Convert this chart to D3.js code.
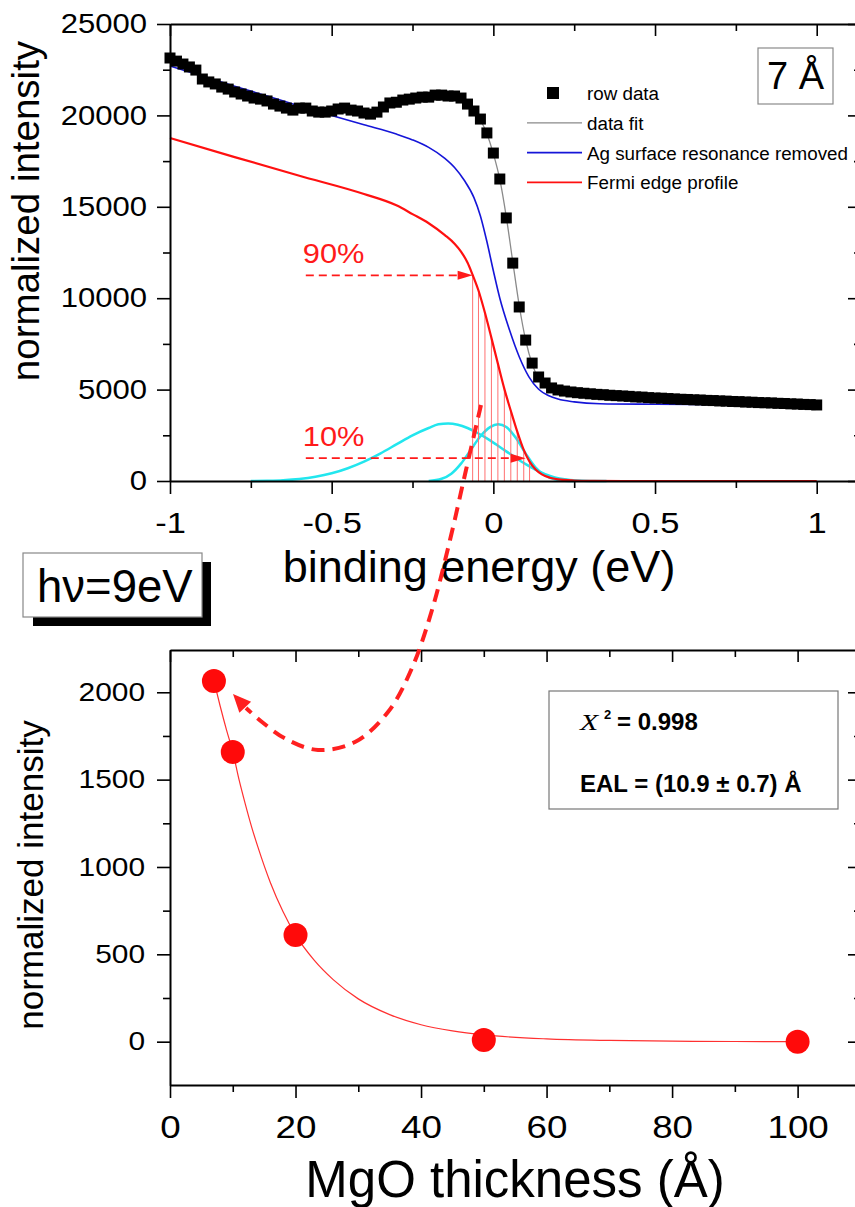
<!DOCTYPE html>
<html>
<head>
<meta charset="utf-8">
<script src="https://cdn.jsdelivr.net/npm/d3@7"></script>
<style>
  body { margin: 0; background: #fff; }
  svg text { font-family: "Liberation Sans", Arial, Helvetica, sans-serif; }
</style>
</head>
<body>
<svg width="855" height="1207"></svg>
<script>
const svg = d3.select("svg");

// ---------- upper panel: spectrum around the Fermi edge (7 Å MgO) ----------
const rowEnergy = [
  -1.00, -0.98, -0.96, -0.94, -0.92, -0.90, -0.88, -0.86, -0.84, -0.82,
  -0.80, -0.78, -0.76, -0.74, -0.72, -0.70, -0.68, -0.66, -0.64, -0.62,
  -0.60, -0.58, -0.56, -0.54, -0.52, -0.50, -0.48, -0.46, -0.44, -0.42,
  -0.40, -0.38, -0.36, -0.34, -0.32, -0.30, -0.28, -0.26, -0.24, -0.22,
  -0.20, -0.18, -0.16, -0.14, -0.12, -0.10, -0.08, -0.06, -0.04, -0.02,
   0.00,  0.02,  0.04,  0.06,  0.08,  0.10,  0.12,  0.14,  0.16,  0.18,
   0.20,  0.22,  0.24,  0.26,  0.28,  0.30,  0.32,  0.34,  0.36,  0.38,
   0.40,  0.42,  0.44,  0.46,  0.48,  0.50,  0.52,  0.54,  0.56,  0.58,
   0.60,  0.62,  0.64,  0.66,  0.68,  0.70,  0.72,  0.74,  0.76,  0.78,
   0.80,  0.82,  0.84,  0.86,  0.88,  0.90,  0.92,  0.94,  0.96,  0.98,
   1.00
];
const rowIntensity = [
  23140, 22970, 22810, 22650, 22480, 21990, 21830, 21720, 21550, 21440,
  21280, 21170, 21060, 20950, 20890, 20790, 20620, 20510, 20400, 20290,
  20400, 20400, 20240, 20180, 20180, 20240, 20350, 20400, 20290, 20240,
  20130, 20070, 20180, 20460, 20680, 20720, 20840, 20890, 20950, 21000,
  21000, 21110, 21110, 21060, 21060, 20950, 20620, 20240, 19800, 19040,
  17940, 16520, 14390, 11920,  9520,  7710,  6450,  5690,  5360,  5090,
   4980,  4920,  4870,  4830,  4800,  4770,  4740,  4720,  4690,  4670,
   4650,  4630,  4600,  4590,  4560,  4540,  4530,  4510,  4490,  4470,
   4460,  4440,  4430,  4410,  4400,  4380,  4370,  4350,  4340,  4320,
   4310,  4290,  4280,  4270,  4250,  4240,  4220,  4210,  4190,  4180,
   4160
];

const fitEnergy = [-1.00, -0.90, -0.80, -0.70, -0.60, -0.50, -0.40, -0.30, -0.20, -0.12,
  -0.08, -0.06, -0.04, -0.02, 0.00, 0.02, 0.04, 0.06, 0.08, 0.10, 0.12, 0.14, 0.16,
  0.20, 0.30, 0.50, 0.75, 1.00];
const fitIntensity = [22950, 22100, 21350, 20800, 20450, 20300, 20250, 20600, 21000, 21050,
  20650, 20250, 19750, 19000, 17900, 16500, 14450, 12000, 9600, 7700, 6400, 5600, 5200,
  4900, 4750, 4540, 4330, 4150];

const agEnergy = [-1.00, -0.90, -0.80, -0.70, -0.60, -0.50, -0.40, -0.30, -0.25, -0.20,
  -0.15, -0.12, -0.09, -0.06, -0.04, -0.02, 0.00, 0.02, 0.05, 0.08, 0.11, 0.14, 0.17,
  0.20, 0.25, 0.33, 0.50, 0.75, 1.00];
const agIntensity = [22700, 22150, 21600, 21060, 20520, 20000, 19490, 18980, 18660, 18250,
  17650, 17150, 16450, 15500, 14500, 13100, 11500, 10000, 8260, 6800, 5700, 5020, 4680,
  4480, 4330, 4230, 4200, 4170, 4130];

const fermiEnergy = [-1.00, -0.80, -0.60, -0.40, -0.30, -0.25, -0.20, -0.15, -0.12, -0.10, -0.08,
  -0.064, -0.046, -0.026, -0.006, 0.014, 0.034, 0.054, 0.074, 0.094, 0.112,
  0.130, 0.150, 0.175, 0.200, 0.250, 0.300, 0.400, 1.000];
const fermiIntensity = [18760, 17720, 16700, 15700, 15080, 14600, 14100, 13450, 12980, 12550, 11950,
  11270, 10420, 9200, 7830, 6420, 5040, 3840, 2700, 1700, 1060,
  640, 360, 180, 90, 25, 5, 0, 0];

const broadEnergy = [-0.75, -0.70, -0.65, -0.60, -0.55, -0.50, -0.45, -0.40, -0.35, -0.30,
  -0.25, -0.20, -0.17, -0.14, -0.11, -0.08, -0.05, -0.02, 0.01, 0.04, 0.07, 0.10, 0.13,
  0.16, 0.19, 0.22, 0.26, 0.30, 0.35];
const broadIntensity = [0, 15, 45, 110, 230, 420, 700, 1060, 1500, 2000,
  2500, 2900, 3100, 3150, 3080, 2900, 2640, 2330, 1980, 1620, 1260, 920, 620,
  380, 200, 90, 25, 5, 0];

const narrowEnergy = [-0.20, -0.16, -0.13, -0.10, -0.07, -0.04, -0.01, 0.015, 0.04,
  0.07, 0.10, 0.13, 0.16, 0.19, 0.22, 0.25];
const narrowIntensity = [0, 120, 400, 950, 1700, 2450, 2950, 3100, 2950,
  2350, 1500, 750, 300, 90, 20, 0];

// energies of the shading lines between the 90 % and 10 % points of the edge
const hatchEnergy = [-0.064, -0.046, -0.026, -0.006, 0.014, 0.034, 0.054, 0.074, 0.094, 0.112];
const edgeStep = 12500;
const markStartEnergy = -0.58;
const mark90End = -0.064;
const mark10End = 0.10;

const legendLabels = ["row data", "data fit", "Ag surface resonance removed", "Fermi edge profile"];
const legendColors = ["#000", "#8a8a8a", "#1515d8", "#ff1010"];

const energyTicks = [-1, -0.5, 0, 0.5, 1];
const energyMinor = [-0.75, -0.25, 0.25, 0.75];
const countTicks = [0, 5000, 10000, 15000, 20000, 25000];
const countMinor = [2500, 7500, 12500, 17500, 22500];

// ---------- lower panel: edge intensity versus MgO thickness ----------
const thickness = [7, 10, 20, 50, 100];
const edgeIntensity = [2065, 1658, 611, 10, 0];
const fitThickness = [7, 8, 9, 10, 11, 12, 13, 14, 16, 18, 20, 23, 26, 30, 35, 40, 45, 50, 60, 70, 80, 90, 100];
const fitEdge = [2065, 1920, 1785, 1660, 1500, 1360, 1230, 1115, 910, 745, 611, 465, 355, 245, 155, 97, 62, 39, 16, 7, 3, 1, 0];

const thickTicks = [0, 20, 40, 60, 80, 100];
const thickMinor = [10, 30, 50, 70, 90];
const edgeTicks = [0, 500, 1000, 1500, 2000];
const edgeMinor = [-250, 250, 750, 1250, 1750];

// ---------- scales ----------
const xE = d3.scaleLinear().domain([-1, 1.137]).range([170, 861]);
const yI = d3.scaleLinear().domain([0, 25000]).range([481, 24]);
const xT = d3.scaleLinear().domain([0, 110.1]).range([170, 861]);
const yT = d3.scaleLinear().domain([-248, 2242]).range([1085, 650]);

const stretch = 1.15;

const curve = (xs, ys, sx, sy) => d3.line()
  .x((d, i) => sx(xs[i]))
  .y((d, i) => sy(ys[i]))
  .curve(d3.curveMonotoneX)(xs);

// Draws a boxed frame: outward ticks with labels on left/bottom, inward mirror ticks on top/right
function drawFrame(g, x, y, s) {
  const [x0, x1] = x.range();
  const [y0, y1] = y.range();
  const inX = v => v >= x.domain()[0] && v <= x.domain()[1];
  const inY = v => v >= y.domain()[0] && v <= y.domain()[1];

  const bottom = g.append("g").attr("transform", `translate(0,${y0})`)
    .call(d3.axisBottom(x).tickValues(s.xMajor).tickSize(13).tickSizeOuter(0)
      .tickPadding(s.xPad).tickFormat(d => String(d)));
  bottom.append("g").call(d3.axisBottom(x).tickValues(s.xMinor.filter(inX)).tickSize(7).tickFormat(""))
    .call(a => a.select(".domain").remove());
  bottom.attr("font-size", s.xFont).attr("font-family", null);
  bottom.selectAll(".tick text").attr("fill", "#000").attr("transform", `scale(${stretch},1)`);

  const left = g.append("g").attr("transform", `translate(${x0},0)`)
    .call(d3.axisLeft(y).tickValues(s.yMajor).tickSize(13).tickSizeOuter(0)
      .tickPadding(s.yPad).tickFormat(d => String(d)));
  left.append("g").call(d3.axisLeft(y).tickValues(s.yMinor.filter(inY)).tickSize(7).tickFormat(""))
    .call(a => a.select(".domain").remove());
  left.attr("font-size", s.yFont).attr("font-family", null);
  left.selectAll(".tick text").attr("fill", "#000")
    .attr("x", -(13 + s.yPad) / stretch)
    .attr("transform", `scale(${stretch},1)`);

  const topAx = g.append("g").attr("transform", `translate(0,${y1})`)
    .call(d3.axisTop(x).tickValues(s.xMajor).tickSize(-12).tickSizeOuter(0).tickFormat(""));
  topAx.append("g").call(d3.axisTop(x).tickValues(s.xMinor.filter(inX)).tickSize(-7).tickFormat(""))
    .call(a => a.select(".domain").remove());

  const rightAx = g.append("g").attr("transform", `translate(${x1},0)`)
    .call(d3.axisRight(y).tickValues(s.yMajor).tickSize(-13).tickSizeOuter(0).tickFormat(""));
  rightAx.append("g").call(d3.axisRight(y).tickValues(s.yMinor.filter(inY)).tickSize(-7).tickFormat(""))
    .call(a => a.select(".domain").remove());

  g.selectAll(".domain").attr("stroke", "#000").attr("stroke-width", 2);
  g.selectAll(".tick line").attr("stroke", "#000").attr("stroke-width", 1.6);
}

function arrowHead(g, tip, from, len, half, color) {
  const dx = tip[0] - from[0], dy = tip[1] - from[1];
  const n = Math.hypot(dx, dy);
  const ux = dx / n, uy = dy / n;
  const bx = tip[0] - ux * len, by = tip[1] - uy * len;
  g.append("path")
    .attr("d", `M${tip[0]},${tip[1]}L${bx - uy * half},${by + ux * half}L${bx + uy * half},${by - ux * half}Z`)
    .attr("fill", color);
}

// ================= upper panel =================
const spec = svg.append("g");

spec.append("path").attr("d", curve(broadEnergy, broadIntensity, xE, yI))
  .attr("fill", "none").attr("stroke", "#22e6ee").attr("stroke-width", 2.5);
spec.append("path").attr("d", curve(narrowEnergy, narrowIntensity, xE, yI))
  .attr("fill", "none").attr("stroke", "#22e6ee").attr("stroke-width", 2.5);

// shading under the edge between the 90 % and 10 % points
spec.selectAll("line.hatch").data(hatchEnergy).enter().append("line")
  .attr("class", "hatch")
  .attr("x1", d => xE(d)).attr("x2", d => xE(d))
  .attr("y1", yI(0))
  .attr("y2", d => yI(fermiIntensity[fermiEnergy.indexOf(d)]))
  .attr("stroke", "#ff7070").attr("stroke-width", 1);

spec.append("path").attr("d", curve(fermiEnergy, fermiIntensity, xE, yI))
  .attr("fill", "none").attr("stroke", "#ff1010").attr("stroke-width", 2.2);
spec.append("path").attr("d", curve(agEnergy, agIntensity, xE, yI))
  .attr("fill", "none").attr("stroke", "#1515d8").attr("stroke-width", 1.6);
spec.append("path").attr("d", curve(fitEnergy, fitIntensity, xE, yI))
  .attr("fill", "none").attr("stroke", "#8a8a8a").attr("stroke-width", 1.3);

spec.selectAll("rect.row").data(rowEnergy).enter().append("rect")
  .attr("class", "row")
  .attr("x", d => xE(d) - 5.5)
  .attr("y", (d, i) => yI(rowIntensity[i]) - 5.5)
  .attr("width", 11).attr("height", 11)
  .attr("fill", "#000");

// 90 % / 10 % markers
const marks = [
  { label: "90%", level: 0.9 * edgeStep, end: mark90End, labelDy: -12 },
  { label: "10%", level: 0.1 * edgeStep, end: mark10End, labelDy: -12 }
];
marks.forEach(m => {
  const y = yI(m.level);
  const x0 = xE(markStartEnergy), x1 = xE(m.end);
  spec.append("line").attr("x1", x0).attr("x2", x1 - 12).attr("y1", y).attr("y2", y)
    .attr("stroke", "#ff1a1a").attr("stroke-width", 1.6).attr("stroke-dasharray", "8,5");
  arrowHead(spec, [x1, y], [x0, y], 15, 4.5, "#ff1a1a");
  spec.append("text")
    .attr("transform", `translate(${x0 - 3},${y + m.labelDy}) scale(1.1,1)`)
    .attr("font-size", 28).attr("fill", "#ff1a1a").text(m.label);
});

drawFrame(spec, xE, yI, {
  xMajor: energyTicks, xMinor: energyMinor, xPad: 18, xFont: 30,
  yMajor: countTicks, yMinor: countMinor, yPad: 10, yFont: 27
});

spec.append("text").attr("x", 479).attr("y", 582).attr("text-anchor", "middle")
  .attr("font-size", 45).text("binding energy (eV)");
spec.append("text").attr("transform", "translate(39,211) rotate(-90)")
  .attr("text-anchor", "middle").attr("font-size", 38.5).text("normalized intensity");

// legend
const legend = spec.append("g");
legendLabels.forEach((label, i) => {
  const cy = 93 + i * 29.8;
  if (i === 0) {
    legend.append("rect").attr("x", 547).attr("y", cy - 6).attr("width", 12).attr("height", 12)
      .attr("fill", legendColors[i]);
  } else {
    legend.append("line").attr("x1", 527).attr("x2", 582).attr("y1", cy).attr("y2", cy)
      .attr("stroke", legendColors[i]).attr("stroke-width", i === 1 ? 1.3 : 1.8);
  }
  legend.append("text").attr("x", 587).attr("y", cy + 7).attr("font-size", 18.8).text(label);
});

// thickness tag
spec.append("rect").attr("x", 758).attr("y", 48).attr("width", 75).attr("height", 56)
  .attr("fill", "#fff").attr("stroke", "#8a8a8a").attr("stroke-width", 1.2);
spec.append("text").attr("x", 795.5).attr("y", 89).attr("text-anchor", "middle")
  .attr("font-size", 38).text("7 Å");

// ================= lower panel =================
const att = svg.append("g");

att.append("path").attr("d", curve(fitThickness, fitEdge, xT, yT))
  .attr("fill", "none").attr("stroke", "#ff3030").attr("stroke-width", 1.2);

att.selectAll("circle").data(thickness).enter().append("circle")
  .attr("cx", d => xT(d))
  .attr("cy", (d, i) => yT(edgeIntensity[i]))
  .attr("r", 12)
  .attr("fill", "#ff0a0a");

drawFrame(att, xT, yT, {
  xMajor: thickTicks, xMinor: thickMinor, xPad: 17, xFont: 32,
  yMajor: edgeTicks, yMinor: edgeMinor, yPad: 12, yFont: 26
});

att.append("text").attr("x", 515).attr("y", 1197).attr("text-anchor", "middle")
  .attr("font-size", 51).text("MgO thickness (Å)");
att.append("text").attr("transform", "translate(43,875) rotate(-90)")
  .attr("text-anchor", "middle").attr("font-size", 35).text("normalized intensity");

// fit result box
att.append("rect").attr("x", 549).attr("y", 691).attr("width", 289).attr("height", 118)
  .attr("fill", "#fff").attr("stroke", "#777").attr("stroke-width", 1.2);
att.append("text").attr("transform", "translate(580,730) scale(1.3,1)")
  .style("font-family", '"Liberation Serif", "Times New Roman", serif')
  .attr("font-style", "italic").attr("font-size", 23).text("X");
att.append("text").attr("x", 604).attr("y", 719).attr("font-size", 13).attr("font-weight", "bold").text("2");
att.append("text").attr("x", 617).attr("y", 730).attr("font-size", 24).attr("font-weight", "bold").text("= 0.998");
att.append("text").attr("x", 580).attr("y", 792).attr("font-size", 24).attr("font-weight", "bold")
  .text("EAL = (10.9 ± 0.7) Å");

// photon energy tag with drop shadow
svg.append("rect").attr("x", 33).attr("y", 562).attr("width", 178).attr("height", 64).attr("fill", "#000");
svg.append("rect").attr("x", 23).attr("y", 553).attr("width", 179).attr("height", 64)
  .attr("fill", "#fff").attr("stroke", "#888").attr("stroke-width", 1.2);
svg.append("text").attr("x", 37).attr("y", 602).attr("font-size", 45.5).text("hν=9eV");

// dashed arrow linking the edge width to the 7 Å point
const linkPts = [[481, 405], [466, 470], [450, 540], [432, 610], [412, 668], [388, 712],
  [355, 742], [318, 750], [286, 739], [262, 722], [246, 708]];
svg.append("path").attr("d", d3.line().curve(d3.curveCatmullRom)(linkPts))
  .attr("fill", "none").attr("stroke", "#ff2020").attr("stroke-width", 4)
  .attr("stroke-dasharray", "13,8");
arrowHead(svg, [233, 694], linkPts[linkPts.length - 1], 18, 8, "#ff2020");
</script>
</body>
</html>
